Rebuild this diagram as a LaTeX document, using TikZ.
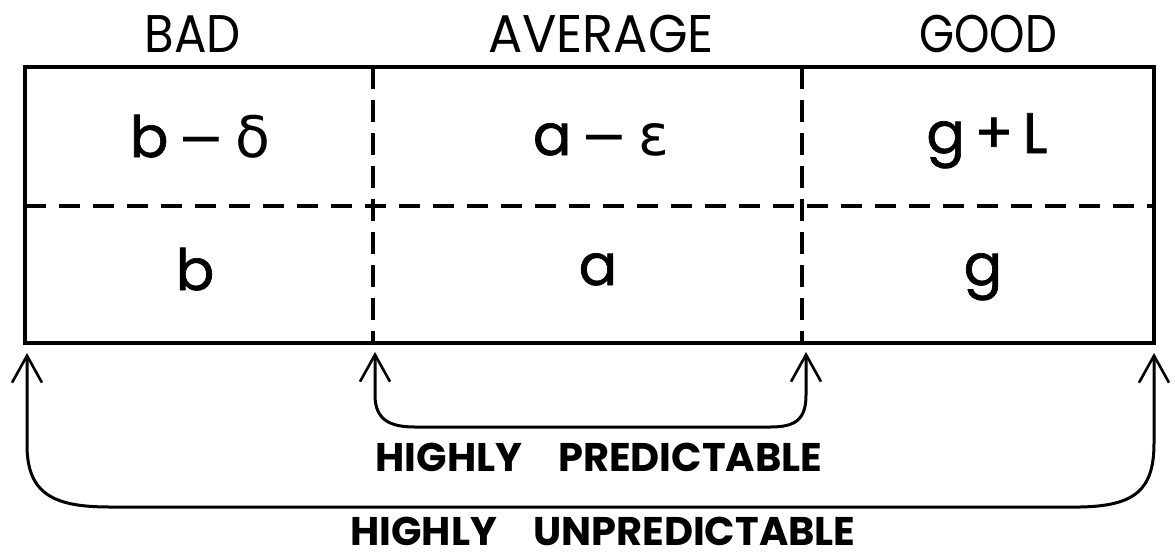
\documentclass[tikz,border=0pt]{standalone}
\usepackage{fontspec}
\setmainfont{Poppins}
\newfontfamily\cellfont{Poppins}[FakeBold=1.2]
\newfontfamily\grk{DejaVu Sans}
\usetikzlibrary{arrows.meta}
\tikzset{
  frame/.style={line width=4pt, line join=miter},
  dashh/.style={line width=3.6pt, dash pattern=on 21pt off 13pt},
  dashv/.style={line width=3.6pt, dash pattern=on 22pt off 11pt},
  bracket/.style={line width=3pt, {Straight Barb[length=27pt,width=30pt,line width=2.6pt]}-{Straight Barb[length=27pt,width=30pt,line width=2.6pt]}},
  head/.style={font=\fontsize{53}{53}\selectfont, inner sep=0pt},
  cell/.style={font=\cellfont\fontsize{57}{57}\selectfont, inner sep=0pt},
  lab/.style={font=\bfseries\fontsize{40}{40}\selectfont, inner sep=0pt},
}
\begin{document}
\begin{tikzpicture}[x=1pt,y=-1pt]
\useasboundingbox (0,0) rectangle (1175,558);
% box corners
\coordinate (tl) at (25,67);
\coordinate (tr) at (1154,67);
\coordinate (bl) at (25,343);
\coordinate (br) at (1154,343);
\coordinate (ml) at (25,206);
\coordinate (mr) at (1154,206);
\coordinate (d1t) at (373,67);
\coordinate (d1b) at (373,343);
\coordinate (d2t) at (802,67);
\coordinate (d2b) at (802,343);
\draw[frame] (tl) rectangle (br);
\draw[dashh] (ml) -- (mr);
\draw[dashv] (d1t) -- (d1b);
\draw[dashv] (d2t) -- (d2b);
% headers
\node[head] (bad) at (193,34) {\scalebox{0.91}[1]{BAD}};
\node[head] (avg) at (601,34) {\scalebox{0.96}[1]{AVERAGE}};
\node[head] (good) at (988,34) {\scalebox{0.85}[1]{GOOD}};
% cells
\node[cell, anchor=base] (c11) at (200,157) {b\,{\grk −}\,{\grk δ}};
\node[cell, anchor=base] (c12) at (601,155) {a\,{\grk −}\,{\grk ε}};
\node[cell, anchor=base] (c13) at (987,153) {g\,+\,L};
\node[cell, anchor=base] (c21) at (195,290) {b};
\node[cell, anchor=base] (c22) at (598,285) {a};
\node[cell, anchor=base] (c23) at (983,285) {g};
% arrow tips
\coordinate (t1) at (27,353);
\coordinate (t2) at (375,352);
\coordinate (t3) at (806,352);
\coordinate (t4) at (1154,353);
\draw[bracket] (t2) -- (375,395) .. controls (375,420) and (390,427) .. (415,427) -- (770,427) .. controls (795,427) and (806,420) .. (806,395) -- (t3);
\draw[bracket] (t1) -- (27,445) .. controls (27,495) and (55,507) .. (110,507) -- (1080,507) .. controls (1135,506) and (1154,490) .. (1154,443) -- (t4);
\node[lab] (hp) at (599,457) {HIGHLY\hspace{0.9em}PREDICTABLE};
\node[lab] (hu) at (603,531) {HIGHLY\hspace{0.9em}UNPREDICTABLE};
\end{tikzpicture}
\end{document}
